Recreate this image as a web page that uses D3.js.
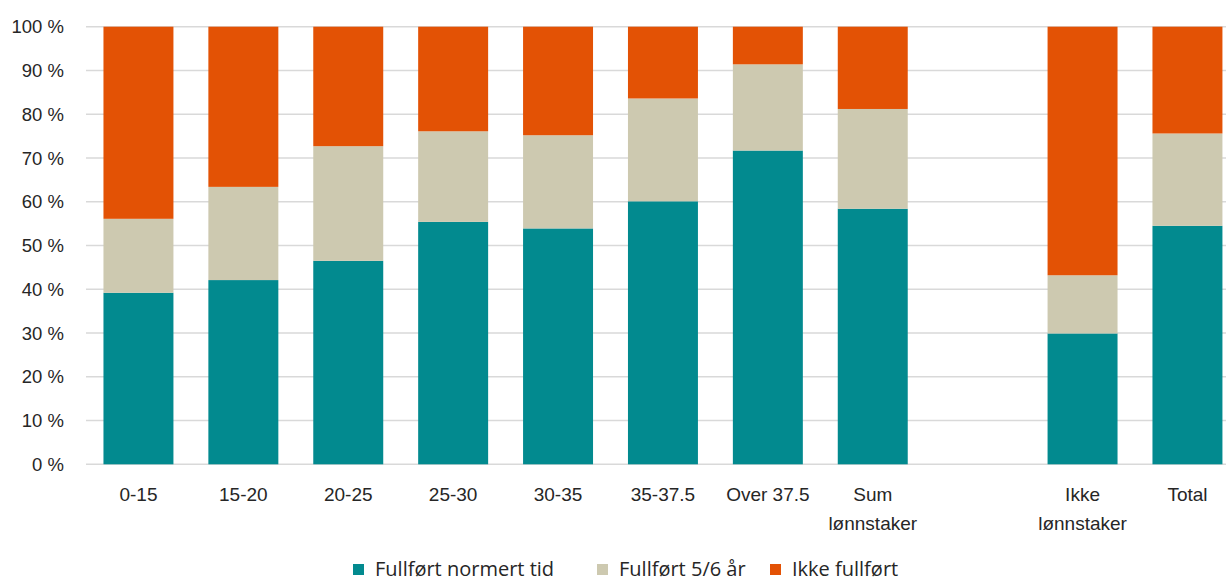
<!DOCTYPE html>
<html lang="no">
<head>
<meta charset="utf-8">
<title>Fullføring etter arbeidstid</title>
<script src="https://d3js.org/d3.v7.min.js"></script>
<style>
  body { margin: 0; background: #fff; }
  svg text { fill: #262626; }
</style>
</head>
<body>
<svg width="1226" height="581"></svg>
<script>
// data
const categories = ["0-15", "15-20", "20-25", "25-30", "30-35", "35-37.5", "Over 37.5", "Sum lønnstaker", "", "Ikke lønnstaker", "Total"];
const normert   = [39.2, 42.1, 46.5, 55.4, 53.9, 60.1, 71.7, 58.4, null, 29.9, 54.5];
const femSeks   = [16.9, 21.3, 26.2, 20.7, 21.3, 23.5, 19.7, 22.8, null, 13.3, 21.1];
const ikke      = [43.9, 36.6, 27.3, 23.9, 24.8, 16.4,  8.6, 18.8, null, 56.8, 24.4];
const seriesNames = ["Fullført normert tid", "Fullført 5/6 år", "Ikke fullført"];
const colors = ["#028a8f", "#cdc9b0", "#e35205"];
const yTicks = [0, 10, 20, 30, 40, 50, 60, 70, 80, 90, 100];

const svg = d3.select("svg");
const keys = ["a", "b", "c"];
const rows = categories.map((c, i) => ({ id: "c" + i, label: c, a: normert[i] || 0, b: femSeks[i] || 0, c: ikke[i] || 0, empty: normert[i] == null }));

const x = d3.scaleBand()
  .domain(rows.map(d => d.id))
  .range([86, 86 + 11 * 104.9])
  .paddingInner(0.333)
  .paddingOuter(0.1665);
const y = d3.scaleLinear().domain([0, 100]).range([464.3, 26.7]);

// gridlines
svg.append("g").selectAll("line")
  .data(yTicks)
  .join("line")
  .attr("x1", 86).attr("x2", 1226)
  .attr("y1", d => y(d)).attr("y2", d => y(d))
  .style("stroke", "#d9d9d9")
  .style("stroke-width", 1.5);

// y labels
svg.append("g").selectAll("text")
  .data(yTicks)
  .join("text")
  .attr("x", 64)
  .attr("y", d => y(d))
  .attr("dy", "0.36em")
  .attr("text-anchor", "end")
  .style("font-family", "Liberation Sans, Arial, sans-serif")
  .style("font-size", "18.5px")
  .text(d => d + " %");

// stacked bars
const stack = d3.stack().keys(keys)(rows.filter(d => !d.empty));
svg.append("g").selectAll("g")
  .data(stack)
  .join("g")
  .style("fill", (d, i) => colors[i])
  .selectAll("rect")
  .data(d => d)
  .join("rect")
  .attr("x", d => x(d.data.id))
  .attr("width", x.bandwidth())
  .attr("y", d => y(d[1]))
  .attr("height", d => y(d[0]) - y(d[1]));

// x labels
const xl = svg.append("g").selectAll("text")
  .data(rows.filter(d => !d.empty))
  .join("text")
  .attr("x", d => x(d.id) + x.bandwidth() / 2)
  .attr("y", 501)
  .attr("text-anchor", "middle")
  .style("font-family", "Liberation Sans, Arial, sans-serif")
  .style("font-size", "19px");
xl.each(function(d) {
  const words = d.label.split(" ");
  const lines = d.label.includes("lønnstaker") ? words : [d.label];
  d3.select(this).selectAll("tspan")
    .data(lines)
    .join("tspan")
    .attr("x", x(d.id) + x.bandwidth() / 2)
    .attr("dy", (l, i) => i === 0 ? 0 : 29)
    .text(l => l);
});

// legend
const legendX = [353, 597, 770];
const lg = svg.append("g").selectAll("g")
  .data(seriesNames)
  .join("g")
  .attr("transform", (d, i) => `translate(${legendX[i]},0)`);
lg.append("rect")
  .attr("x", 0).attr("y", 564)
  .attr("width", 11).attr("height", 11)
  .style("fill", (d, i) => colors[i]);
lg.append("text")
  .attr("x", 22).attr("y", 576)
  .style("font-family", "Open Sans, sans-serif")
  .style("font-size", "20px")
  .text(d => d);
</script>
</body>
</html>
